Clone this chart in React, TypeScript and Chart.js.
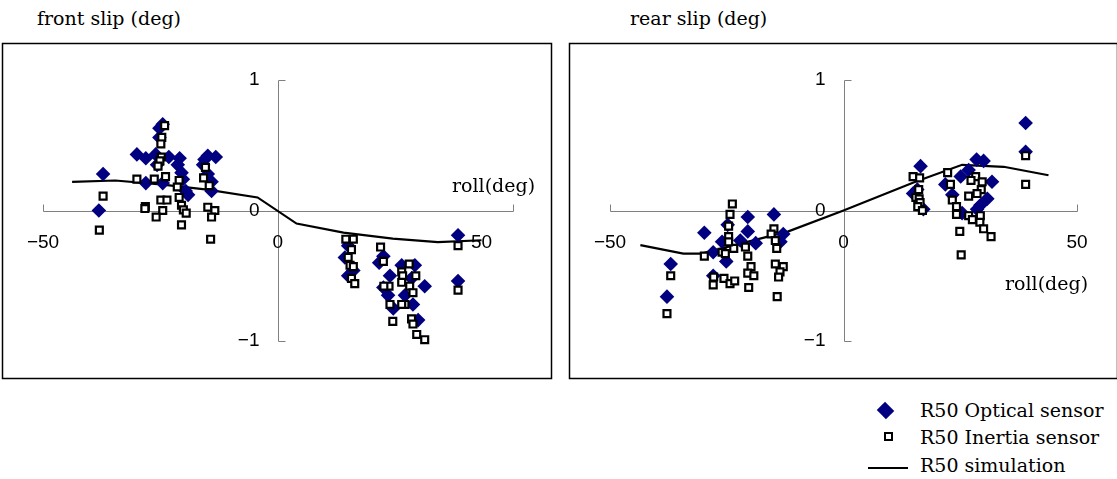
import React, { useEffect, useRef } from "react";
import { Chart, registerables } from "chart.js";

Chart.register(...registerables);

type Pt = [number, number];

const xTicks = [-50, 0, 50];
const yTicks = [1, 0, -1];

const legendLabels = ["R50 Optical sensor", "R50 Inertia sensor", "R50 simulation"];

const frontOptical: Pt[] = [
  [-37.2, 0.28], [-38.1, 0.0], [-30.0, 0.43], [-28.1, 0.4], [-26.0, 0.43], [-25.2, 0.56],
  [-25.2, 0.63], [-24.5, 0.66], [-23.2, 0.41], [-25.7, 0.35], [-20.9, 0.4], [-21.3, 0.35],
  [-20.5, 0.29], [-20.2, 0.24], [-19.6, 0.15], [-19.1, 0.12], [-28.1, 0.21], [-24.5, 0.21],
  [-14.9, 0.42], [-13.2, 0.41], [-15.9, 0.35], [-14.9, 0.28], [-14.1, 0.22], [-14.1, 0.15],
  [-15.6, 0.39],
  [38.4, -0.19], [38.4, -0.54], [15.0, -0.27], [14.3, -0.36], [16.1, -0.46], [15.0, -0.5],
  [22.5, -0.35], [21.6, -0.4], [26.4, -0.42], [29.2, -0.42], [23.9, -0.5], [22.5, -0.59],
  [31.3, -0.58], [28.5, -0.52], [23.5, -0.65], [27.1, -0.65], [24.6, -0.75], [28.8, -0.72],
  [29.9, -0.84],
];

const frontInertia: Pt[] = [
  [-24.1, 0.65], [-24.7, 0.56], [-24.9, 0.51], [-24.8, 0.41], [-25.1, 0.38], [-25.5, 0.34],
  [-30.0, 0.24], [-26.3, 0.24], [-23.9, 0.26], [-21.0, 0.23], [-21.4, 0.18], [-15.4, 0.33],
  [-15.8, 0.25], [-14.6, 0.19], [-37.2, 0.11], [-24.9, 0.08], [-23.6, 0.08], [-21.0, 0.1],
  [-28.2, 0.03], [-28.3, 0.015], [-24.5, 0.0], [-20.5, 0.04], [-20.1, 0.005], [-19.5, -0.02],
  [-25.9, -0.05], [-14.9, 0.025], [-13.4, 0.0], [-14.1, -0.05], [-38.0, -0.15], [-20.5, -0.11],
  [-14.3, -0.22],
  [14.5, -0.22], [16.1, -0.22], [15.7, -0.3], [15.0, -0.36], [15.4, -0.42], [16.1, -0.43],
  [15.7, -0.52], [16.4, -0.56], [21.9, -0.28], [22.5, -0.39], [28.0, -0.41], [26.4, -0.47],
  [26.6, -0.5], [29.4, -0.5], [26.4, -0.55], [28.1, -0.58], [23.7, -0.58], [22.6, -0.58],
  [28.8, -0.63], [23.9, -0.72], [27.1, -0.72], [26.4, -0.72], [24.5, -0.85], [28.5, -0.83],
  [28.8, -0.87], [29.6, -0.95], [31.3, -0.99], [38.4, -0.27], [38.4, -0.61],
];

const frontSimulation: Pt[] = [
  [-43.8, 0.22], [-34.6, 0.23], [-25, 0.2], [-15, 0.16], [-4.3, 0.1], [4.0, -0.1],
  [14, -0.17], [24.5, -0.215], [34.1, -0.243], [43.4, -0.228],
];

const rearOptical: Pt[] = [
  [-37.8, -0.66], [-37.0, -0.41], [-29.8, -0.17], [-27.9, -0.32], [-27.9, -0.5], [-25.1, -0.39],
  [-26.0, -0.24], [-24.8, -0.11], [-20.5, -0.05], [-20.5, -0.16], [-18.8, -0.25], [-22.1, -0.23],
  [-14.9, -0.03], [-12.9, -0.18], [-13.5, -0.24],
  [39.0, 0.67], [39.0, 0.45], [16.5, 0.34], [15.8, 0.16], [14.9, 0.13], [17.1, 0.01],
  [28.5, 0.39], [30.0, 0.38], [26.8, 0.31], [25.1, 0.26], [31.8, 0.22], [21.8, 0.2],
  [23.3, 0.12], [30.8, 0.09], [29.3, 0.04], [28.6, 0.01], [25.4, -0.02],
];

const rearInertia: Pt[] = [
  [-37.8, -0.79], [-37.0, -0.5], [-29.8, -0.35], [-27.8, -0.51], [-27.9, -0.57], [-25.6, -0.52],
  [-24.3, -0.56], [-23.3, -0.54], [-26.0, -0.32], [-25.3, -0.33], [-23.5, -0.29], [-23.8, 0.05],
  [-24.3, -0.03], [-24.6, -0.12], [-24.6, -0.2], [-24.6, -0.24], [-21.0, -0.28], [-20.5, -0.35],
  [-19.8, -0.43], [-20.5, -0.48], [-19.2, -0.5], [-20.3, -0.59], [-14.9, -0.14], [-15.5, -0.18],
  [-14.6, -0.23], [-14.3, -0.29], [-14.6, -0.41], [-12.9, -0.43], [-13.6, -0.47], [-13.9, -0.51],
  [-14.2, -0.66],
  [39.0, 0.42], [39.0, 0.2], [14.9, 0.26], [16.3, 0.25], [16.1, 0.16], [15.5, 0.1],
  [16.2, 0.09], [16.4, 0.06], [15.9, 0.03], [16.9, 0.0], [22.3, 0.29], [22.9, 0.2],
  [23.3, 0.08], [24.2, 0.03], [24.2, -0.03], [24.9, -0.16], [25.2, -0.34], [28.3, 0.26],
  [27.3, 0.23], [29.7, 0.22], [29.5, 0.16], [26.8, 0.11], [28.6, 0.13], [26.8, -0.04],
  [27.6, -0.07], [29.3, -0.04], [29.2, -0.09], [30.0, -0.14], [31.6, -0.2],
];

const rearSimulation: Pt[] = [
  [-43.5, -0.265], [-34.3, -0.33], [-30.4, -0.33], [-11.8, -0.16], [0, 0], [15.4, 0.22],
  [25.4, 0.35], [34.3, 0.335], [43.9, 0.27],
];

const NAVY = "#000080";
const SERIF = '"DejaVu Serif", "Liberation Serif", serif';
const SANS = '"Liberation Sans", Arial, sans-serif';

const fmt = (v: number) => (v < 0 ? "\u2212" + Math.abs(v) : String(v));

function makeAxesPlugin(xLabelShift: number[]) {
  return {
    id: "crossAxes",
    beforeDatasetsDraw(chart: any) {
      const { ctx } = chart;
      const xs = chart.scales.x;
      const ys = chart.scales.y;
      ctx.save();
      ctx.strokeStyle = "#000";
      ctx.lineWidth = 1.5;
      ctx.strokeRect(1.5, 1.5, chart.width - 3, chart.height - 3);

      const x0 = Math.round(xs.getPixelForValue(0)) + 0.5;
      const y0 = Math.round(ys.getPixelForValue(0)) + 0.5;
      const xl = Math.round(xs.getPixelForValue(xTicks[0])) + 0.5;
      const xr = Math.round(xs.getPixelForValue(xTicks[xTicks.length - 1])) + 0.5;
      const yt = Math.round(ys.getPixelForValue(yTicks[0])) + 0.5;
      const yb = Math.round(ys.getPixelForValue(yTicks[yTicks.length - 1])) + 0.5;

      ctx.strokeStyle = "#808080";
      ctx.lineWidth = 1;
      ctx.beginPath();
      ctx.moveTo(xl, y0); ctx.lineTo(xr, y0);
      ctx.moveTo(xl, y0); ctx.lineTo(xl, y0 - 7);
      ctx.moveTo(xr, y0); ctx.lineTo(xr, y0 - 7);
      ctx.moveTo(x0, yt); ctx.lineTo(x0, yb);
      ctx.moveTo(x0, yt); ctx.lineTo(x0 + 7, yt);
      ctx.moveTo(x0, yb); ctx.lineTo(x0 + 7, yb);
      ctx.stroke();

      ctx.fillStyle = "#000";
      ctx.font = "19px " + SANS;
      ctx.textBaseline = "middle";
      ctx.textAlign = "center";
      xTicks.forEach((v, i) => {
        ctx.fillText(fmt(v), xs.getPixelForValue(v) + (xLabelShift[i] || 0), y0 + 31);
      });
      ctx.textAlign = "right";
      yTicks.forEach((v) => {
        ctx.fillText(fmt(v), x0 - 19, ys.getPixelForValue(v));
      });
      ctx.restore();
    },
  };
}

type PanelProps = {
  optical: Pt[];
  inertia: Pt[];
  sim: Pt[];
  left: number;
  width: number;
  padRight: number;
  xLabelShift: number[];
};

function Panel({ optical, inertia, sim, left, width, padRight, xLabelShift }: PanelProps) {
  const ref = useRef<HTMLCanvasElement | null>(null);
  useEffect(() => {
    if (!ref.current) return;
    const toXY = (a: Pt[]) => a.map(([x, y]) => ({ x, y }));
    const chart = new Chart(ref.current, {
      type: "scatter",
      data: {
        datasets: [
          {
            label: legendLabels[1],
            data: toXY(inertia),
            pointStyle: "rect",
            pointRadius: 4.9,
            pointBorderWidth: 2.2,
            borderColor: "#000",
            backgroundColor: "#fff",
            order: 0,
            clip: false,
          } as any,
          {
            label: legendLabels[0],
            data: toXY(optical),
            pointStyle: "rectRot",
            pointRadius: 7.3,
            pointBorderWidth: 0,
            borderColor: NAVY,
            backgroundColor: NAVY,
            order: 1,
            clip: false,
          },
          {
            label: legendLabels[2],
            data: toXY(sim),
            showLine: true,
            pointRadius: 0,
            borderColor: "#000",
            borderWidth: 2.2,
            backgroundColor: "#000",
            order: 2,
            clip: false,
          },
        ],
      },
      options: {
        animation: false,
        responsive: false,
        devicePixelRatio: 1,
        layout: { padding: { left: 42, right: padRight, top: 38, bottom: 39 } },
        scales: {
          x: { type: "linear", min: -50, max: 50, display: false },
          y: { type: "linear", min: -1, max: 1, display: false },
        },
        plugins: { legend: { display: false }, tooltip: { enabled: false } },
      },
      plugins: [makeAxesPlugin(xLabelShift)],
    });
    return () => chart.destroy();
  }, []);
  return (
    <canvas
      ref={ref}
      width={width}
      height={338}
      style={{ position: "absolute", left, top: 42, width, height: 338 }}
    />
  );
}

const textStyle = (left: number, centerY: number): React.CSSProperties => ({
  position: "absolute",
  left,
  top: centerY - 11,
  height: 22,
  lineHeight: "22px",
  fontFamily: SERIF,
  fontSize: 19,
  color: "#000",
  whiteSpace: "nowrap",
});

export default function App() {
  return (
    <div
      style={{
        position: "absolute",
        left: 0,
        top: 0,
        width: 1117,
        height: 479,
        overflow: "hidden",
        background: "#fff",
      }}
    >
      <div style={textStyle(37, 18)}>front slip (deg)</div>
      <div style={textStyle(630, 18)}>rear slip (deg)</div>
      <Panel
        optical={frontOptical}
        inertia={frontInertia}
        sim={frontSimulation}
        left={1}
        width={552}
        padRight={40.5}
        xLabelShift={[0, 0, -31]}
      />
      <Panel
        optical={rearOptical}
        inertia={rearInertia}
        sim={rearSimulation}
        left={568}
        width={551}
        padRight={42}
        xLabelShift={[0, 0, 0]}
      />
      <div style={textStyle(452, 185)}>roll(deg)</div>
      <div style={textStyle(1005, 283)}>roll(deg)</div>

      <div
        style={{
          position: "absolute",
          left: 878.5,
          top: 403.5,
          width: 13,
          height: 13,
          background: NAVY,
          transform: "rotate(45deg) scaleY(0.9)",
        }}
      />
      <div
        style={{
          position: "absolute",
          left: 884,
          top: 432,
          width: 5,
          height: 5,
          border: "2px solid #000",
          background: "#fff",
        }}
      />
      <div
        style={{
          position: "absolute",
          left: 868,
          top: 467,
          width: 40,
          height: 2,
          background: "#000",
        }}
      />
      <div style={textStyle(920, 410)}>{legendLabels[0]}</div>
      <div style={textStyle(920, 437)}>{legendLabels[1]}</div>
      <div style={textStyle(920, 465)}>{legendLabels[2]}</div>
    </div>
  );
}
